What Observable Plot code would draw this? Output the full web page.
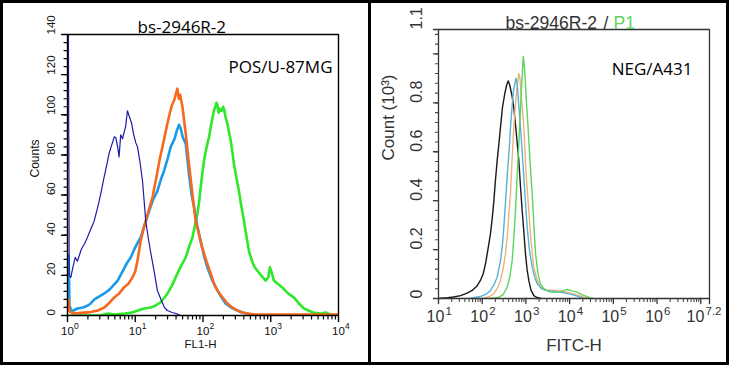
<!DOCTYPE html>
<html><head><meta charset="utf-8">
<script src="https://cdn.jsdelivr.net/npm/d3@7"></script>
<script src="https://cdn.jsdelivr.net/npm/@observablehq/plot@0.6"></script>
<style>
html,body{margin:0;padding:0;background:#fff;}
#wrap{position:relative;width:737px;height:367px;background:#fff;overflow:hidden;}
#wrap > svg{position:absolute;top:0;}
.b{position:absolute;background:#000;}
</style></head><body><div id="wrap"></div>
<script>
// ---------- Left panel (POS/U-87MG), FL1-H vs Counts ----------
const leftNavy = [[1.01,150],[1.03,150],[1.06,20],[1.12,19],[1.2,24],[1.3,29],[1.4,27],[1.6,33],[1.8,36],[1.97,39],[2.2,43],[2.47,47],[2.7,52],[2.93,57],[3.2,63],[3.47,69],[3.8,75],[4.1,80.6],[4.4,84],[4.6,86],[4.9,89],[5.15,88.8],[5.5,84],[5.77,79],[6.1,90],[6.5,88],[6.8,91],[7.2,94],[7.67,102],[8.2,99],[8.8,96],[9.5,90],[10.2,86],[10.8,84],[11.8,76],[12.8,67],[14.3,47],[15.5,39],[17,31],[19,22],[21.2,12.5],[24,8],[27,4],[29.8,2.5],[35,1.5],[40,1],[47,0],[10000,0]];
const leftSky = [[1.01,30],[1.04,30],[1.07,5],[1.15,2],[1.4,3.5],[1.7,4],[2.0,5],[2.2,6],[2.5,8],[2.8,9],[3.5,11],[4.2,13],[5.5,17.4],[6.5,22],[7.5,26],[8.6,29],[10,34],[12.1,39],[14,46],[16,52],[18.5,58],[21.2,62],[24,68],[26.6,72],[30,78],[33.4,84],[38,88],[41,92],[44.3,95],[47,93],[50,89],[55.6,85.6],[62,70.7],[68,60],[73.7,54],[82,45],[92.5,37],[103,30],[116,24],[135,18],[154,14],[180,10],[216,6],[260,4],[321,2.5],[380,1.5],[452,1],[550,0]];
const leftOrange = [[1.01,8],[1.04,8],[1.07,2],[1.25,1],[1.6,1.3],[2.2,1.7],[2.8,2.5],[3.5,4],[4.2,6.5],[4.9,9],[5.8,11],[6.8,14],[8,16],[9.1,19],[10,22],[10.8,27.4],[12,37],[13,42],[14.3,47],[16,53],[18,59],[21,70.6],[23,78],[25.2,84],[27.5,90],[29.8,95.6],[33,102],[35,105],[37.4,107],[39.5,110],[41.9,113],[44,108],[46,110],[49.7,104],[55.6,90.6],[62,75.6],[69.8,60.6],[78,47],[87,40.6],[95,35],[103.5,31],[115,26],[130,21],[145,16],[163,12.5],[195,9],[229,6],[270,4],[321,2.5],[380,1.5],[452,1],[600,0.5],[10000,0.5]];
const leftGreen = [[1.01,0],[3,0],[3.9,1],[5,0.5],[7,1],[9,1.5],[11,2.5],[13.5,3.5],[17,4],[20,5],[23.8,6.6],[27,9],[30,11],[35,15],[42,21],[48,25],[55.6,29],[62,34],[70,39],[76,45],[82.6,50.6],[88,57],[92.5,64],[98,71],[103.5,77],[110,82],[116,85.5],[123,89],[130,93.8],[137,98],[145,102],[152,104],[158,106],[163,105],[170,101],[176,103],[182,102],[190,102],[197,104],[204,103],[215,99],[229,95.5],[243,91],[257,87],[270,82],[286,75.6],[310,69],[339,62],[370,54],[403,47],[440,39],[478,32],[530,27],[580,24],[631,22.4],[720,20],[841,17.4],[920,19],[973,24],[1020,22],[1114,17.4],[1250,16],[1480,14],[1800,11],[2190,9],[2600,6],[3090,3.5],[3600,2.5],[4200,1.5],[5440,1],[6500,1.5],[7500,0.5],[9800,0]];
const leftDecades = [0, 1, 2, 3, 4];
const leftYLabels = [0, 20, 40, 60, 80, 100, 120, 140];

// ---------- Right panel (NEG/A431), FITC-H vs Count (10^3) ----------
const rightBlack = [[10,0],[16,0.003],[22,0.006],[32,0.012],[45,0.022],[59,0.033],[75,0.05],[91,0.074],[105,0.1],[119,0.142],[135,0.2],[155,0.266],[170,0.33],[185,0.40],[200,0.48],[220,0.564],[240,0.63],[262,0.70],[290,0.78],[330,0.84],[365,0.875],[395,0.89],[430,0.87],[480,0.83],[528,0.78],[600,0.68],[688,0.564],[750,0.46],[820,0.36],[900,0.27],[977,0.183],[1060,0.12],[1164,0.074],[1300,0.035],[1515,0.012],[1800,0.004],[2200,0]];
const rightSky = [[50,0],[91,0.008],[130,0.02],[155,0.033],[190,0.06],[220,0.087],[262,0.155],[290,0.22],[312,0.29],[340,0.39],[372,0.496],[410,0.6],[444,0.70],[480,0.78],[520,0.85],[590,0.9],[630,0.88],[680,0.8],[751,0.70],[820,0.6],[896,0.496],[980,0.39],[1070,0.29],[1200,0.2],[1393,0.128],[1600,0.085],[1820,0.06],[2300,0.04],[3090,0.033],[4500,0.028],[6500,0.025],[9000,0.02],[12000,0.015],[16000,0.008],[20000,0]];
const rightOrange = [[100,0],[150,0.008],[185,0.02],[225,0.045],[262,0.074],[300,0.12],[341,0.183],[380,0.27],[410,0.35],[444,0.43],[480,0.56],[528,0.70],[580,0.8],[640,0.88],[688,0.92],[730,0.9],[790,0.82],[896,0.70],[1000,0.52],[1164,0.36],[1300,0.24],[1515,0.128],[1800,0.075],[2140,0.046],[3000,0.035],[4500,0.033],[6500,0.03],[9000,0.026],[13000,0.018],[18000,0.01],[25000,0]];
const rightGreen = [[150,0],[220,0.003],[300,0.015],[372,0.046],[430,0.09],[485,0.155],[530,0.25],[578,0.36],[630,0.5],[688,0.633],[740,0.75],[790,0.86],[840,0.94],[870,0.99],[910,0.96],[960,0.9],[1030,0.8],[1120,0.70],[1240,0.56],[1393,0.43],[1520,0.3],[1660,0.183],[1900,0.1],[2140,0.06],[2700,0.035],[3630,0.026],[5000,0.025],[6200,0.028],[7360,0.033],[8760,0.037],[11000,0.032],[14700,0.026],[19000,0.016],[25000,0.008],[33000,0]];
const rightTickDecades = [1, 2, 3, 4, 5, 6, 7, 7.2];
const rightLabelDecades = [1, 2, 3, 4, 5, 6];
const rightEndLabel = ["7.2"];
const rightYLabels = [0, 0.2, 0.4, 0.6, 0.8, 1.1];

const rows = (pairs) => pairs.map(([x, y]) => ({x, y}));
const minorLog = (d0, d1, max) => {
  const out = [];
  for (let d = d0; d < d1; d++) for (let k = 2; k <= 9; k++) { const v = k * 10 ** d; if (v < max) out.push(v); }
  return out;
};
const blank = () => "";
// plot-area border drawn as a closed path through the domain corners
const box = (xd, yd, color, w) => Plot.line(
  [[xd[0], yd[0]], [xd[1], yd[0]], [xd[1], yd[1]], [xd[0], yd[1]], [xd[0], yd[0]]],
  {x: d => d[0], y: d => d[1], stroke: color, strokeWidth: w, strokeLinejoin: "miter", strokeLinecap: "square"}
);
// tick marks drawn as paths of a fixed pixel length below / left of the axis
const tickShape = {draw(context, l) { context.moveTo(0, 0); context.lineTo(0, -l); }};
const xTicks = (vals, y0, len, color, w) => Plot.vector(vals, {x: d => d, y: () => y0, length: len, rotate: 180, anchor: "start", shape: tickShape, stroke: color, strokeWidth: w});
const yTicks = (vals, x0, len, color, w) => Plot.vector(vals, {x: () => x0, y: d => d, length: len, rotate: -90, anchor: "start", shape: tickShape, stroke: color, strokeWidth: w});

const left = Plot.plot({
  width: 368, height: 363,
  marginLeft: 67, marginRight: 30, marginTop: 34, marginBottom: 48,
  style: {fontFamily: "'Liberation Sans', Arial, sans-serif"},
  x: {type: "log", domain: [1, 1e4], label: null, axis: null},
  y: {domain: [0, 140], label: null, axis: null},
  marks: [
    Plot.line(rows(leftGreen), {x: "x", y: "y", stroke: "#2ee82a", strokeWidth: 2.6, clip: true}),
    Plot.line(rows(leftSky), {x: "x", y: "y", stroke: "#1b9ae8", strokeWidth: 2.6, clip: true}),
    Plot.line(rows(leftOrange), {x: "x", y: "y", stroke: "#f56a1e", strokeWidth: 2.6, clip: true}),
    Plot.line(rows(leftNavy), {x: "x", y: "y", stroke: "#1c1ca8", strokeWidth: 1.2, clip: true}),
    box([1, 1e4], [0, 140], "#000", 1.4),
    xTicks(leftDecades.map(d => 10 ** d), 0, 6, "#000", 1.4),
    xTicks(minorLog(0, 4, 1e4), 0, 3.5, "#000", 1.2),
    yTicks(leftYLabels, 1, 6, "#000", 1.4),
    yTicks(d3.range(0, 141, 4), 1, 3.5, "#000", 1.2),
    Plot.text(leftYLabels, {y: d => d, text: d => String(d), frameAnchor: "left", dx: -16, rotate: -90, fontSize: 11.5, fill: "#111"}),
    Plot.text(leftDecades, {x: d => 10 ** d, text: () => "10", frameAnchor: "bottom", dy: 19, fontSize: 11.5, fill: "#111"}),
    Plot.text(leftDecades, {x: d => 10 ** d, text: d => String(d), frameAnchor: "bottom", textAnchor: "start", dx: 6.5, dy: 13.5, fontSize: 8.5, fill: "#111"}),
    Plot.text(["FL1-H"], {text: d => d, frameAnchor: "bottom", dy: 32, dx: -2.5, fontSize: 11.5, fill: "#111"}),
    Plot.text(["Counts"], {text: d => d, frameAnchor: "left", rotate: -90, dx: -32, dy: 2.5, fontSize: 12, fill: "#111"}),
    Plot.text(["bs-2946R-2"], {text: d => d, frameAnchor: "top-left", textAnchor: "start", dx: 70, dy: -14, fontSize: 17, fontFamily: "'Open Sans'", fill: "#000"}),
    Plot.text(["POS/U-87MG"], {text: d => d, frameAnchor: "top-right", textAnchor: "end", dx: -6, dy: 26, fontSize: 17, fontFamily: "'Open Sans'", fill: "#000"})
  ]
});

const right = Plot.plot({
  width: 355, height: 363,
  marginLeft: 67, marginRight: 17, marginTop: 29, marginBottom: 65,
  style: {fontFamily: "'Liberation Sans', Arial, sans-serif"},
  x: {type: "log", domain: [10, 10 ** 7.2], label: null, axis: null},
  y: {domain: [0, 1.1], label: null, axis: null},
  marks: [
    Plot.line(rows(rightBlack), {x: "x", y: "y", stroke: "#1a1a1a", strokeWidth: 1.4}),
    Plot.line(rows(rightOrange), {x: "x", y: "y", stroke: "#f0b27a", strokeWidth: 1.4}),
    Plot.line(rows(rightSky), {x: "x", y: "y", stroke: "#56b2d6", strokeWidth: 1.4}),
    Plot.line(rows(rightGreen), {x: "x", y: "y", stroke: "#5fd35f", strokeWidth: 1.4}),
    box([10, 10 ** 7.2], [0, 1.1], "#333", 1.3),
    xTicks(rightTickDecades.map(d => 10 ** d), 0, 5, "#333", 1.3),
    xTicks(minorLog(1, 8, 10 ** 7.2), 0, 3, "#444", 1.1),
    yTicks([0, 0.2, 0.4, 0.6, 0.8, 1.0, 1.1], 10, 5, "#333", 1.3),
    yTicks(d3.range(0, 1.1, 0.04), 10, 3, "#444", 1.1),
    Plot.text(rightYLabels, {y: d => d, text: d => String(d), frameAnchor: "left", dx: -22, rotate: -90, fontSize: 16, fill: "#333"}),
    Plot.text(rightLabelDecades, {x: d => 10 ** d, text: () => "10", frameAnchor: "bottom", dy: 23, dx: -3, fontSize: 16, fill: "#333"}),
    Plot.text(rightLabelDecades, {x: d => 10 ** d, text: d => String(d), frameAnchor: "bottom", textAnchor: "start", dx: 7, dy: 16, fontSize: 11.5, fill: "#333"}),
    Plot.text(rightEndLabel, {x: () => 10 ** 7.2, text: () => "10", frameAnchor: "bottom", dy: 23, dx: -14, fontSize: 16, fill: "#333"}),
    Plot.text(rightEndLabel, {x: () => 10 ** 7.2, text: d => d, frameAnchor: "bottom", textAnchor: "start", dx: -4, dy: 16, fontSize: 11.5, fill: "#333"}),
    Plot.text(["FITC-H"], {text: d => d, frameAnchor: "bottom", dy: 52, fontSize: 17, fill: "#333"}),
    Plot.text(["Count (10³)"], {text: d => d, frameAnchor: "left", rotate: -90, dx: -50, dy: -3.5, fontSize: 17, fill: "#333"}),
    Plot.text(["bs-2946R-2"], {text: d => d, frameAnchor: "top-left", textAnchor: "start", dx: 67, dy: -13, fontSize: 17.5, fill: "#333"}),
    Plot.text(["/"], {text: d => d, frameAnchor: "top-left", textAnchor: "start", dx: 165, dy: -13, fontSize: 17.5, fill: "#333"}),
    Plot.text(["P1"], {text: d => d, frameAnchor: "top-left", textAnchor: "start", dx: 175, dy: -13, fontSize: 17.5, fill: "#5fd35f"}),
    Plot.text(["NEG/A431"], {text: d => d, frameAnchor: "top-right", textAnchor: "end", dx: -17, dy: 33, fontSize: 17, fontFamily: "'Open Sans'", fill: "#000"})
  ]
});

const wrap = document.getElementById("wrap");
left.style.left = "0px";
right.style.left = "371px";
wrap.appendChild(left);
wrap.appendChild(right);
// outer border and divider
[[0,0,729,3],[0,0,3,365],[0,362,729,3],[726,0,3,365],[368,0,3,365]].forEach(([x,y,w,h]) => {
  const d = document.createElement("div");
  d.className = "b";
  Object.assign(d.style, {left: x + "px", top: y + "px", width: w + "px", height: h + "px"});
  wrap.appendChild(d);
});
</script></body></html>
